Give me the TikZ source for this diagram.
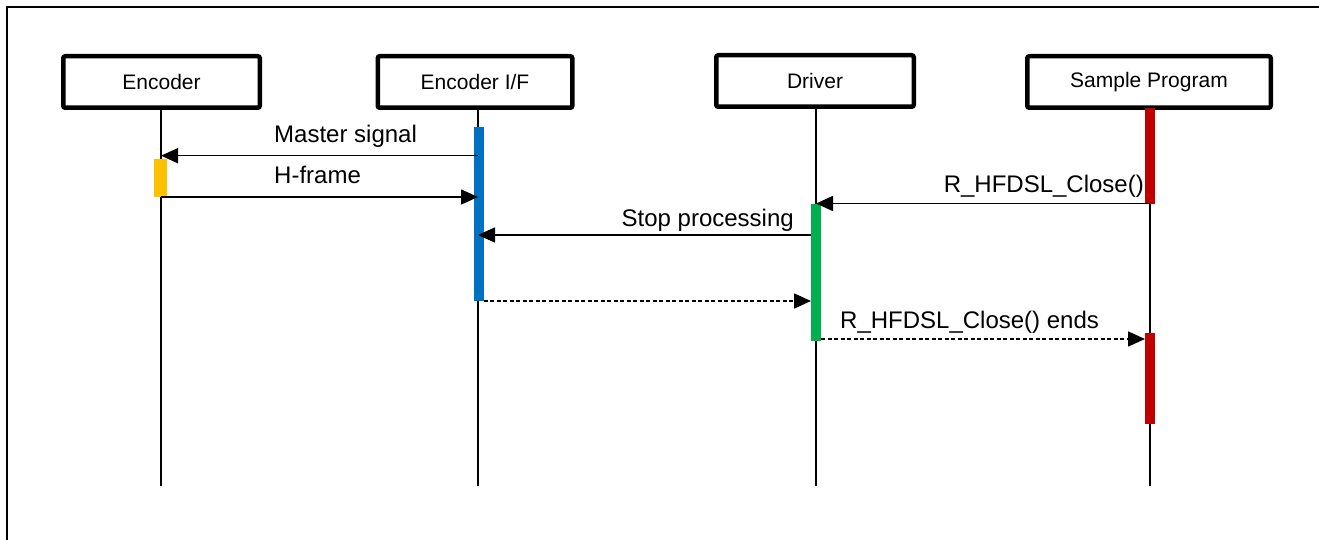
\documentclass[tikz,border=0pt]{standalone}
\usepackage{fontspec}
\setmainfont{Liberation Sans}
\usetikzlibrary{arrows.meta}
\definecolor{cblue}{HTML}{0070C0}
\definecolor{cyellow}{HTML}{FFC000}
\definecolor{cgreen}{HTML}{00B050}
\definecolor{cred}{HTML}{C00000}
\begin{document}
\begin{tikzpicture}[x=1pt,y=-1pt,
  actor/.style={draw,line width=4.5pt,rounded corners=2pt,minimum height=51.5pt,inner sep=0pt,
    font=\fontsize{21}{25}\selectfont},
  life/.style={line width=1.3pt},
  bar/.style={fill=#1,draw=none,inner sep=0pt,outer sep=0pt,minimum width=10pt},
  msg/.style={line width=1.6pt,-{Triangle[length=17pt 0 0,width=15pt 0 0]}},
  ret/.style={msg,dash pattern=on 4pt off 2.5pt},
  lbl/.style={font=\fontsize{24}{28}\selectfont,inner sep=0pt}]
\useasboundingbox (0,0) rectangle (1319,540);
% outer frame (cut by page edges)
\draw[line width=2pt] (7,541) -- (7,7) -- (1319,7);

% actors
\node[actor,minimum width=196.5pt] (enc) at (161.5,82) {Encoder};
\node[actor,minimum width=194.5pt] (encif) at (475,82) {Encoder I/F};
\node[actor,minimum width=197.5pt] (drv) at (815,81) {Driver};
\node[actor,minimum width=243.5pt] (smp) at (1149,82) {Sample Program};

% lifeline ends
\coordinate (encEnd) at (161,486);
\coordinate (encifEnd) at (478,486);
\coordinate (drvEnd) at (816,486);
\coordinate (smpEnd) at (1150,486);
\draw[life] (enc.south -| encEnd) -- (encEnd);
\draw[life] (encif.south -| encifEnd) -- (encifEnd);
\draw[life] (drv.south -| drvEnd) -- (drvEnd);
\draw[life] (smp.south -| smpEnd) -- (smpEnd);

% activation bars
\node[bar=cyellow,minimum width=13pt,minimum height=38pt] (ybar) at (160.5,178) {};
\node[bar=cblue,minimum height=174pt] (bbar) at (478.5,214) {};
\node[bar=cgreen,minimum height=137pt] (gbar) at (816,272.5) {};
\node[bar=cred,minimum height=96pt] (rbar1) at (1150,156) {};
\node[bar=cred,minimum height=91pt] (rbar2) at (1150,378.5) {};

% message rows
\coordinate (m1) at (0,155.7);
\coordinate (m2) at (0,197);
\coordinate (m3) at (0,203.5);
\coordinate (m4) at (0,235);
\coordinate (m5) at (0,301);
\coordinate (m6) at (0,339);

\draw[msg] (encifEnd |- m1) -- (encEnd |- m1);
\draw[msg] (encEnd |- m2) -- (encifEnd |- m2);
\draw[msg] (smpEnd |- m3) -- (drvEnd |- m3);
\draw[msg] (gbar.west |- m4) -- (encifEnd |- m4);
\draw[ret] (bbar.east |- m5) -- (gbar.west |- m5);
\draw[ret] (gbar.east |- m6) -- (rbar2.west |- m6);

% labels
\node[lbl,anchor=base west] (l1) at (274,143) {Master signal};
\node[lbl,anchor=base west] (l2) at (274,184) {H-frame};
\node[lbl,anchor=base east] (l3) at (1144,193) {R\_HFDSL\_Close()};
\node[lbl,anchor=base east] (l4) at (794,226) {Stop processing};
\node[lbl,anchor=base west] (l5) at (840,328) {R\_HFDSL\_Close() ends};
\end{tikzpicture}
\end{document}
